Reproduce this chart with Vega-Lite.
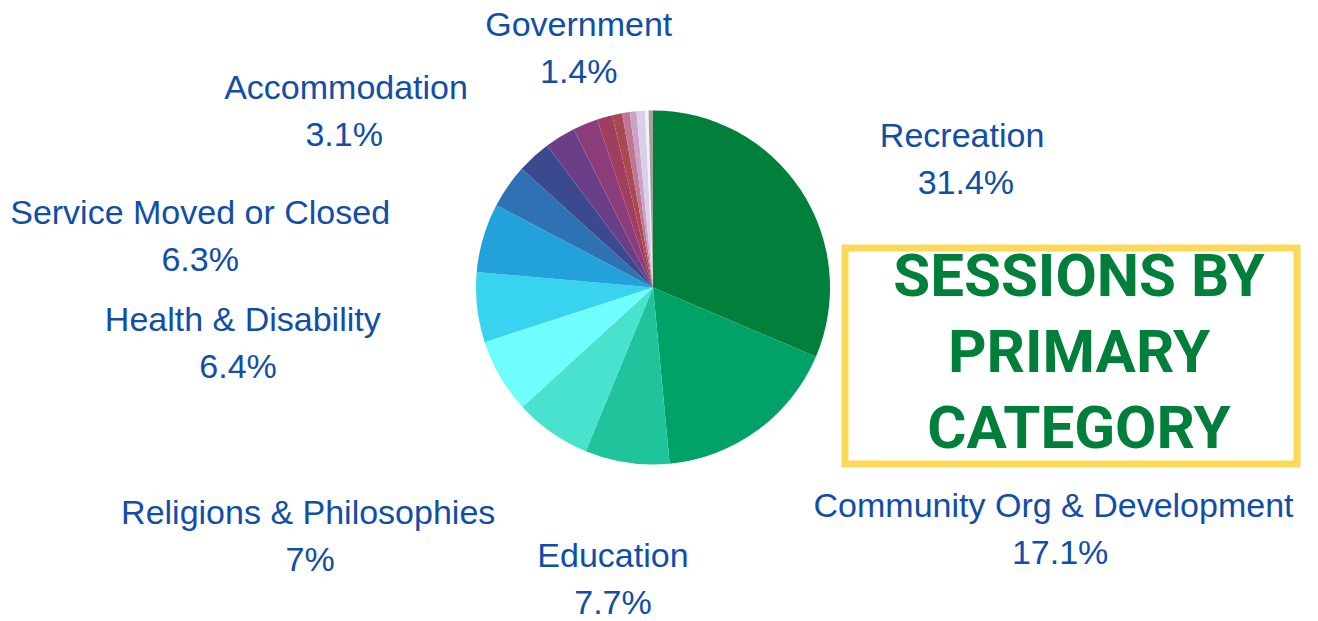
{
  "$schema": "https://vega.github.io/schema/vega-lite/v6.json",
  "background": "white",
  "autosize": {"type": "pad"},
  "padding": {"left": 10, "top": 8, "right": 0, "bottom": 0},
  "spacing": 15,
  "bounds": "flush",
  "config": {"view": {"stroke": null}},
  "hconcat": [
    {
      "width": 354,
      "height": 79,
      "data": {
        "values": [
          {"rank": 1, "category": "Recreation", "value": 31.4, "label": "Recreation\n\u200b\u00a0\u00a0\u00a0\u00a031.4%"},
          {"rank": 2, "category": "Community Org & Development", "value": 17.1, "label": "Community Org & Development\n\u200b\u00a0\u00a0\u00a0\u00a0\u00a0\u00a0\u00a0\u00a0\u00a0\u00a0\u00a0\u00a0\u00a0\u00a0\u00a0\u00a0\u00a0\u00a0\u00a0\u00a0\u00a017.1%"},
          {"rank": 3, "category": "Education", "value": 7.7, "label": "Education\n7.7%"},
          {"rank": 4, "category": "Religions & Philosophies", "value": 7.0, "label": "Religions & Philosophies\n7%\u00a0\u00a0\u00a0\u00a0\u00a0\u00a0\u00a0\u00a0\u00a0\u00a0\u00a0\u00a0\u00a0\u00a0\u00a0\u00a0\u00a0\u200b"},
          {"rank": 5, "category": "Unlabelled 1", "value": 6.8, "label": ""},
          {"rank": 6, "category": "Health & Disability", "value": 6.4, "label": "Health & Disability\n6.4%\u00a0\u00a0\u00a0\u00a0\u00a0\u00a0\u00a0\u00a0\u00a0\u00a0\u00a0\u200b"},
          {"rank": 7, "category": "Service Moved or Closed", "value": 6.3, "label": "Service Moved or Closed\n6.3%\u00a0\u00a0\u00a0\u00a0\u00a0\u00a0\u00a0\u00a0\u00a0\u00a0\u00a0\u00a0\u00a0\u00a0\u00a0\u00a0\u200b"},
          {"rank": 8, "category": "Unlabelled 2", "value": 4.0, "label": ""},
          {"rank": 9, "category": "Accommodation", "value": 3.1, "label": "Accommodation\n3.1%\u00a0\u00a0\u00a0\u00a0\u00a0\u00a0\u00a0\u00a0\u00a0\u200b"},
          {"rank": 10, "category": "Unlabelled 3", "value": 2.8, "label": ""},
          {"rank": 11, "category": "Unlabelled 4", "value": 2.3, "label": ""},
          {"rank": 12, "category": "Government", "value": 1.4, "label": "Government\n1.4%"},
          {"rank": 13, "category": "Unlabelled 5", "value": 0.9, "label": ""},
          {"rank": 14, "category": "Unlabelled 6", "value": 0.7, "label": ""},
          {"rank": 15, "category": "Unlabelled 7", "value": 0.6, "label": ""},
          {"rank": 16, "category": "Unlabelled 8", "value": 0.8, "label": ""},
          {"rank": 17, "category": "Unlabelled 9", "value": 0.3, "label": ""},
          {"rank": 18, "category": "Unlabelled 10", "value": 0.4, "label": ""}
        ]
      },
      "encoding": {
        "theta": {"field": "value", "type": "quantitative", "stack": true},
        "order": {"field": "rank", "type": "quantitative"}
      },
      "layer": [
        {
          "mark": {"type": "arc", "outerRadius": 177},
          "encoding": {
            "color": {
              "field": "category",
              "type": "nominal",
              "legend": null,
              "scale": {
                "domain": ["Recreation", "Community Org & Development", "Education", "Religions & Philosophies", "Unlabelled 1", "Health & Disability", "Service Moved or Closed", "Unlabelled 2", "Accommodation", "Unlabelled 3", "Unlabelled 4", "Government", "Unlabelled 5", "Unlabelled 6", "Unlabelled 7", "Unlabelled 8", "Unlabelled 9", "Unlabelled 10"],
                "range": ["#00803a", "#00a267", "#1fc49d", "#48e2cf", "#6ffdfd", "#38d3ef", "#22a1db", "#2e72b4", "#3b4a8e", "#6b3f87", "#8a3d7a", "#a03e60", "#a84a50", "#c07595", "#c9a2c6", "#d9d0e8", "#f2f0f8", "#a8a0a0"]
              }
            }
          }
        },
        {
          "mark": {"type": "text", "radius": 272, "align": "left", "baseline": "middle", "font": "Liberation Sans", "lineHeight": 47, "lineBreak": "\n", "color": "#104ea8"},
          "encoding": {
            "detail": {"field": "category", "type": "nominal"},
            "size": {"condition": {"test": "indexof(['Recreation', 'Community Org & Development'], datum.category) >= 0", "value": 34}, "value": 0},
            "text": {"condition": {"test": "indexof(['Recreation', 'Community Org & Development'], datum.category) >= 0", "field": "label"}, "value": ""}
          }
        },
        {
          "mark": {"type": "text", "radius": 272, "align": "right", "baseline": "middle", "dx": -2, "dy": 3, "font": "Liberation Sans", "lineHeight": 47, "lineBreak": "\n", "color": "#104ea8"},
          "encoding": {
            "detail": {"field": "category", "type": "nominal"},
            "size": {"condition": {"test": "indexof(['Religions & Philosophies', 'Health & Disability', 'Service Moved or Closed', 'Accommodation'], datum.category) >= 0", "value": 34}, "value": 0},
            "text": {"condition": {"test": "indexof(['Religions & Philosophies', 'Health & Disability', 'Service Moved or Closed', 'Accommodation'], datum.category) >= 0", "field": "label"}, "value": ""}
          }
        },
        {
          "mark": {"type": "text", "radius": 272, "align": "center", "baseline": "middle", "font": "Liberation Sans", "lineHeight": 47, "lineBreak": "\n", "color": "#104ea8"},
          "encoding": {
            "detail": {"field": "category", "type": "nominal"},
            "size": {"condition": {"test": "indexof(['Education', 'Government'], datum.category) >= 0", "value": 34}, "value": 0},
            "text": {"condition": {"test": "indexof(['Education', 'Government'], datum.category) >= 0", "field": "label"}, "value": ""}
          }
        }
      ]
    },
    {
      "width": 452,
      "height": 216,
      "view": {"stroke": "#fdd95a", "strokeWidth": 7},
      "data": {"values": [{"title": "SESSIONS BY\nPRIMARY\nCATEGORY"}]},
      "mark": {"type": "text", "font": "Roboto", "fontWeight": "bold", "fontSize": 60, "lineHeight": 76, "lineBreak": "\n", "baseline": "middle", "dx": 8, "dy": -78, "color": "#007f3a"},
      "encoding": {"text": {"field": "title"}}
    }
  ]
}
